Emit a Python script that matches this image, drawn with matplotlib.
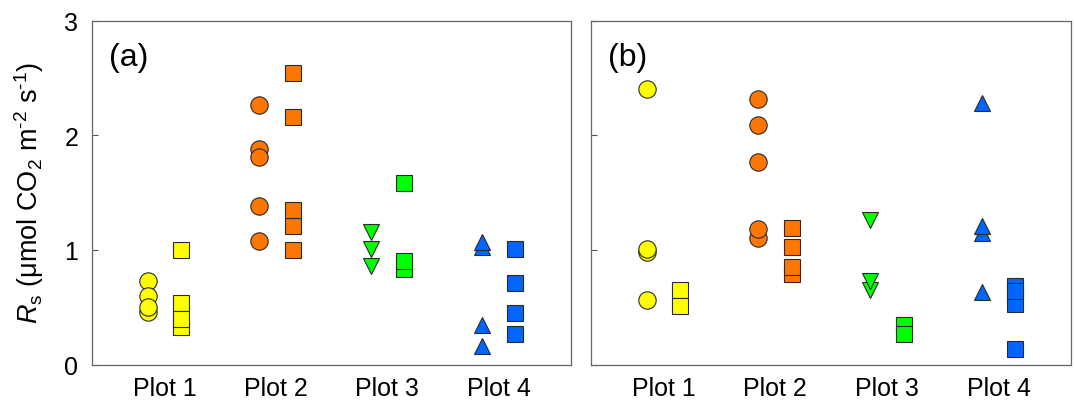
import numpy as np
import matplotlib
matplotlib.use("Agg")
import matplotlib.pyplot as plt

plt.rcParams['font.family'] = 'Liberation Sans'
plt.rcParams['mathtext.fontset'] = 'custom'
plt.rcParams['mathtext.rm'] = 'Liberation Sans'
plt.rcParams['mathtext.it'] = 'Liberation Sans:italic'

plots = ['Plot 1', 'Plot 2', 'Plot 3', 'Plot 4']
colors = ['#FFFF00', '#FF7700', '#00FF00', '#0066FF']
left_markers = ['o', 'o', 'v', '^']

# panel (a): left column (circles / triangles) and right column (squares)
a_left = [
    [0.46, 0.73, 0.60, 0.50],
    [2.26, 1.88, 1.81, 1.38, 1.08],
    [1.16, 1.01, 0.86],
    [1.03, 1.07, 0.35, 0.16],
]
a_right = [
    [1.00, 0.54, 0.33, 0.40],
    [2.54, 2.16, 1.21, 1.35, 1.00],
    [1.58, 0.83, 0.90],
    [1.01, 0.71, 0.45, 0.27],
]

# panel (b)
b_left = [
    [2.40, 0.98, 1.01, 0.56],
    [2.32, 2.09, 1.77, 1.10, 1.18],
    [1.26, 0.65, 0.73],
    [2.28, 1.15, 1.21, 0.63],
]
b_right = [
    [0.65, 0.51],
    [1.19, 1.03, 0.79, 0.85],
    [0.35, 0.27],
    [0.69, 0.53, 0.64, 0.14],
]

fig = plt.figure(figsize=(10.74, 4.02), dpi=100)
ax1 = fig.add_axes([0.0857, 0.0903, 0.446, 0.8562])
ax2 = fig.add_axes([0.5503, 0.0903, 0.447, 0.8562])

off = 0.15
edge = '#2a2a2a'

for ax, left, right, tag in [(ax1, a_left, a_right, '(a)'), (ax2, b_left, b_right, '(b)')]:
    for i in range(4):
        xc = i + 1
        ms = 12.5 if left_markers[i] == 'o' else 12
        for v in left[i]:
            ax.plot(xc - off, v, marker=left_markers[i], ms=ms, mfc=colors[i],
                    mec=edge, mew=0.8, linestyle='none')
        for v in right[i]:
            ax.plot(xc + off, v, marker='s', ms=11.4, mfc=colors[i],
                    mec=edge, mew=0.8, linestyle='none')

    ax.set_xlim(0.35, 4.65)
    ax.set_ylim(0, 3)
    ax.set_xticks([1, 2, 3, 4])
    ax.set_xticklabels(plots)
    ax.set_yticks([0, 1, 2, 3])
    ax.tick_params(axis='x', length=0, pad=8, labelsize=18)
    ax.tick_params(axis='y', direction='in', length=4, width=0.8,
                   color='#555555', pad=10, labelsize=18)
    for s in ax.spines.values():
        s.set_color('#666666')
        s.set_linewidth(0.9)
    ax.text(0.035, 0.893, tag, transform=ax.transAxes, fontsize=23,
            ha='left', va='center')

ax2.set_yticklabels([])
ax1.set_ylabel(r'$R_\mathrm{s}$ ($\mathrm{\mu}$mol CO$_2$ m$^{\text{-2}}$ s$^{\text{-1}}$)',
               fontsize=19.5)
ax1.yaxis.set_label_coords(-0.097, 0.503)

fig.savefig('out.png', dpi=100)
